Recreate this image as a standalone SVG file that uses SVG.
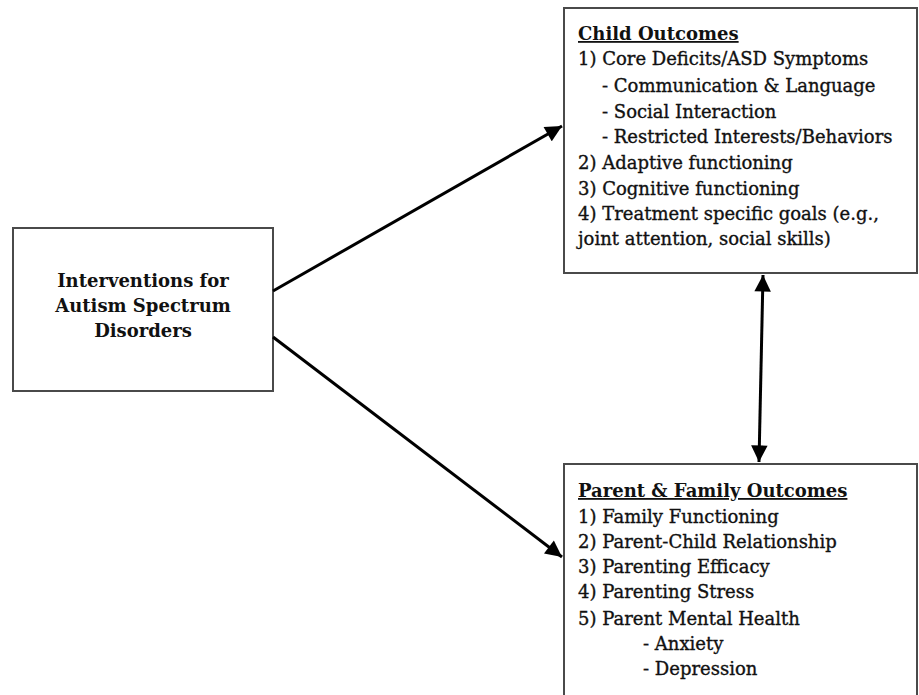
<svg xmlns="http://www.w3.org/2000/svg" width="919" height="695" viewBox="0 0 919 695">
<style>
.box{fill:#fff;stroke:#4a4a4a;stroke-width:2}
.t{font-family:"DejaVu Serif","Liberation Serif",serif;font-size:18px;fill:#111;stroke:#111;stroke-width:0.35}
.h{font-weight:bold;text-decoration:underline;stroke-width:0}
.c{font-weight:bold;text-anchor:middle;stroke-width:0}
.arr{stroke:#000;stroke-width:3;fill:none}
</style>
<defs>
<marker id="ah" viewBox="0 0 10 10" refX="10" refY="5" markerWidth="6" markerHeight="5.5" markerUnits="strokeWidth" orient="auto-start-reverse">
<path d="M0,0 L10,5 L0,10 z" fill="#000"/>
</marker>
</defs>
<rect width="919" height="695" fill="#fff"/>
<g id="interventions">
<rect class="box" x="13" y="228" width="260" height="163"/>
<text class="t c" x="143" y="287">Interventions for</text>
<text class="t c" x="143" y="312">Autism Spectrum</text>
<text class="t c" x="143" y="337">Disorders</text>
</g>
<g id="child">
<rect class="box" x="564" y="8" width="353" height="265"/>
<text class="t h" x="578" y="40">Child Outcomes</text>
<text class="t" x="578" y="65">1) Core Deficits/ASD Symptoms</text>
<text class="t" x="602" y="92">- Communication &amp; Language</text>
<text class="t" x="602" y="118">- Social Interaction</text>
<text class="t" x="602" y="143">- Restricted Interests/Behaviors</text>
<text class="t" x="578" y="169">2) Adaptive functioning</text>
<text class="t" x="578" y="195">3) Cognitive functioning</text>
<text class="t" x="578" y="220">4) Treatment specific goals (e.g.,</text>
<text class="t" x="578" y="245">joint attention, social skills)</text>
</g>
<g id="parent">
<rect class="box" x="564" y="464" width="353" height="240"/>
<text class="t h" x="578" y="497">Parent &amp; Family Outcomes</text>
<text class="t" x="578" y="523">1) Family Functioning</text>
<text class="t" x="578" y="548">2) Parent-Child Relationship</text>
<text class="t" x="578" y="573">3) Parenting Efficacy</text>
<text class="t" x="578" y="598">4) Parenting Stress</text>
<text class="t" x="578" y="625">5) Parent Mental Health</text>
<text class="t" x="643" y="650">- Anxiety</text>
<text class="t" x="643" y="675">- Depression</text>
</g>
<g id="connectors">
<line class="arr" x1="273" y1="291" x2="562" y2="126" marker-end="url(#ah)"/>
<line class="arr" x1="273" y1="337" x2="562" y2="557" marker-end="url(#ah)"/>
<line class="arr" x1="763" y1="275" x2="759" y2="462" marker-start="url(#ah)" marker-end="url(#ah)"/>
</g>
</svg>
